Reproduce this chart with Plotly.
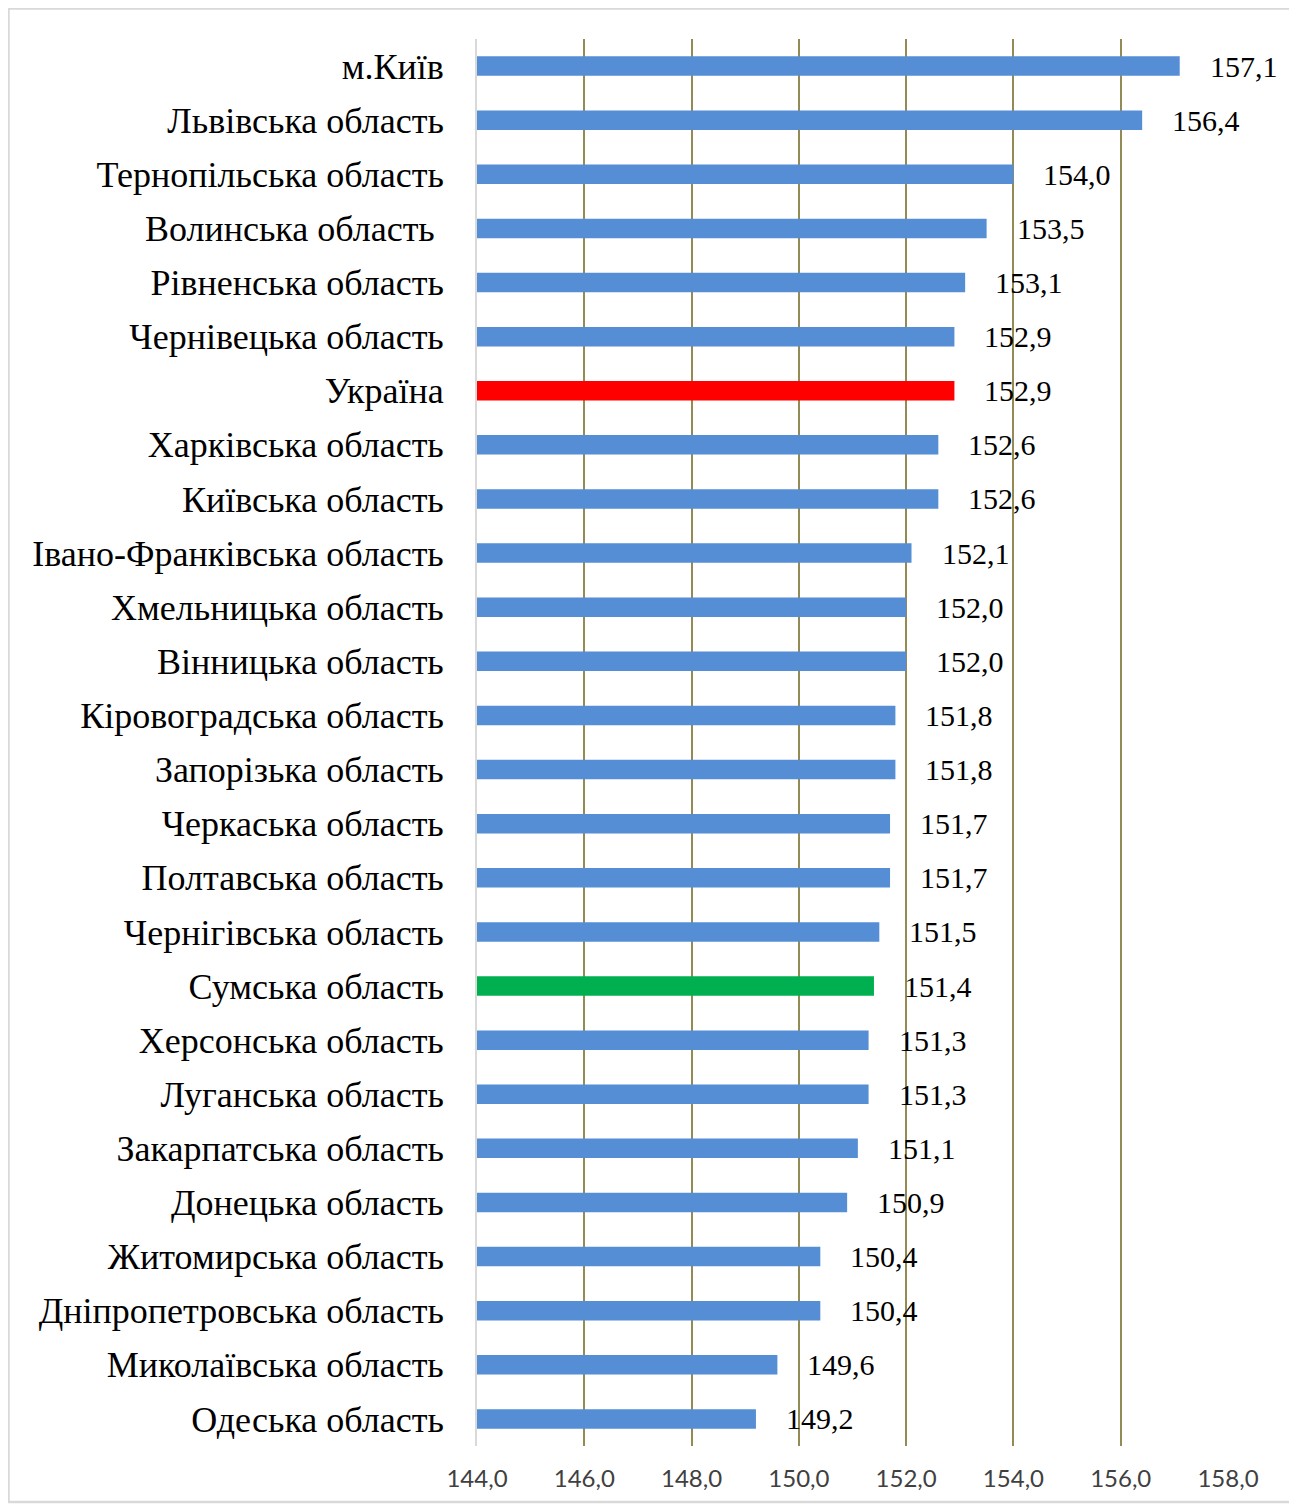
import plotly.graph_objects as go

regions = [
    "м.Київ", "Львівська область", "Тернопільська область", "Волинська область ",
    "Рівненська область", "Чернівецька область", "Україна", "Харківська область",
    "Київська область", "Івано-Франківська область", "Хмельницька область",
    "Вінницька область", "Кіровоградська область", "Запорізька область",
    "Черкаська область", "Полтавська область", "Чернігівська область",
    "Сумська область", "Херсонська область", "Луганська область",
    "Закарпатська область", "Донецька область", "Житомирська область",
    "Дніпропетровська область", "Миколаївська область", "Одеська область",
]
values = [157.1, 156.4, 154.0, 153.5, 153.1, 152.9, 152.9, 152.6, 152.6, 152.1,
          152.0, 152.0, 151.8, 151.8, 151.7, 151.7, 151.5, 151.4, 151.3, 151.3,
          151.1, 150.9, 150.4, 150.4, 149.6, 149.2]
x_ticks = [144, 146, 148, 150, 152, 154, 156, 158]
x_tick_labels = ["144,0", "146,0", "148,0", "150,0", "152,0", "154,0", "156,0", "158,0"]

BLUE = "#558ed5"
colors = []
for r in regions:
    if r == "Україна":
        colors.append("#ff0000")
    elif r == "Сумська область":
        colors.append("#00b050")
    else:
        colors.append(BLUE)

base = 144
fig = go.Figure()
fig.add_trace(go.Bar(
    y=regions, x=[v - base for v in values], base=base, orientation="h",
    marker=dict(color=colors, line=dict(width=0)), width=0.36,
    hoverinfo="skip",
))

for r, v in zip(regions, values):
    fig.add_annotation(
        x=v, y=r, xref="x", yref="y", text=f"{v:.1f}".replace(".", ","),
        showarrow=False, xanchor="left", xshift=28,
        font=dict(family="Liberation Serif", size=30, color="#000000"),
    )

# page body has an 8px margin, so figure coordinates = screen coordinates - 8
OFF = 8
L, R, T, B = 477 - OFF, 1228 - OFF, 39 - OFF, 1446 - OFF
W, H = 1297 - OFF, 1506 - OFF
pw, ph = R - L, B - T
fig.add_shape(type="rect", xref="paper", yref="paper",
              x0=(0.5 - L) / pw, x1=(1287 - L) / pw,
              y0=(B - (1502 - OFF)) / ph, y1=(B - 0.5) / ph,
              line=dict(color="#d9d9d9", width=2.5), fillcolor="rgba(0,0,0,0)", layer="below")

fig.update_layout(
    width=W, height=H,
    margin=dict(l=L, r=W - R, t=T, b=H - B, pad=0),
    plot_bgcolor="white", paper_bgcolor="white",
    showlegend=False,
    xaxis=dict(range=[144, 158], tickvals=x_ticks, ticktext=x_tick_labels,
               showgrid=True, gridcolor="#948a54", gridwidth=2, zeroline=False,
               showline=False, ticks="", ticklabelstandoff=16,
               tickfont=dict(family="Lato", size=24, color="#404040")),
    yaxis=dict(autorange="reversed", showgrid=False, zeroline=False,
               showline=True, linecolor="#d9d9d9", linewidth=2,
               ticks="", ticklabelstandoff=24,
               tickfont=dict(family="Liberation Serif", size=36, color="#000000")),
)
fig.write_html("out.html")
